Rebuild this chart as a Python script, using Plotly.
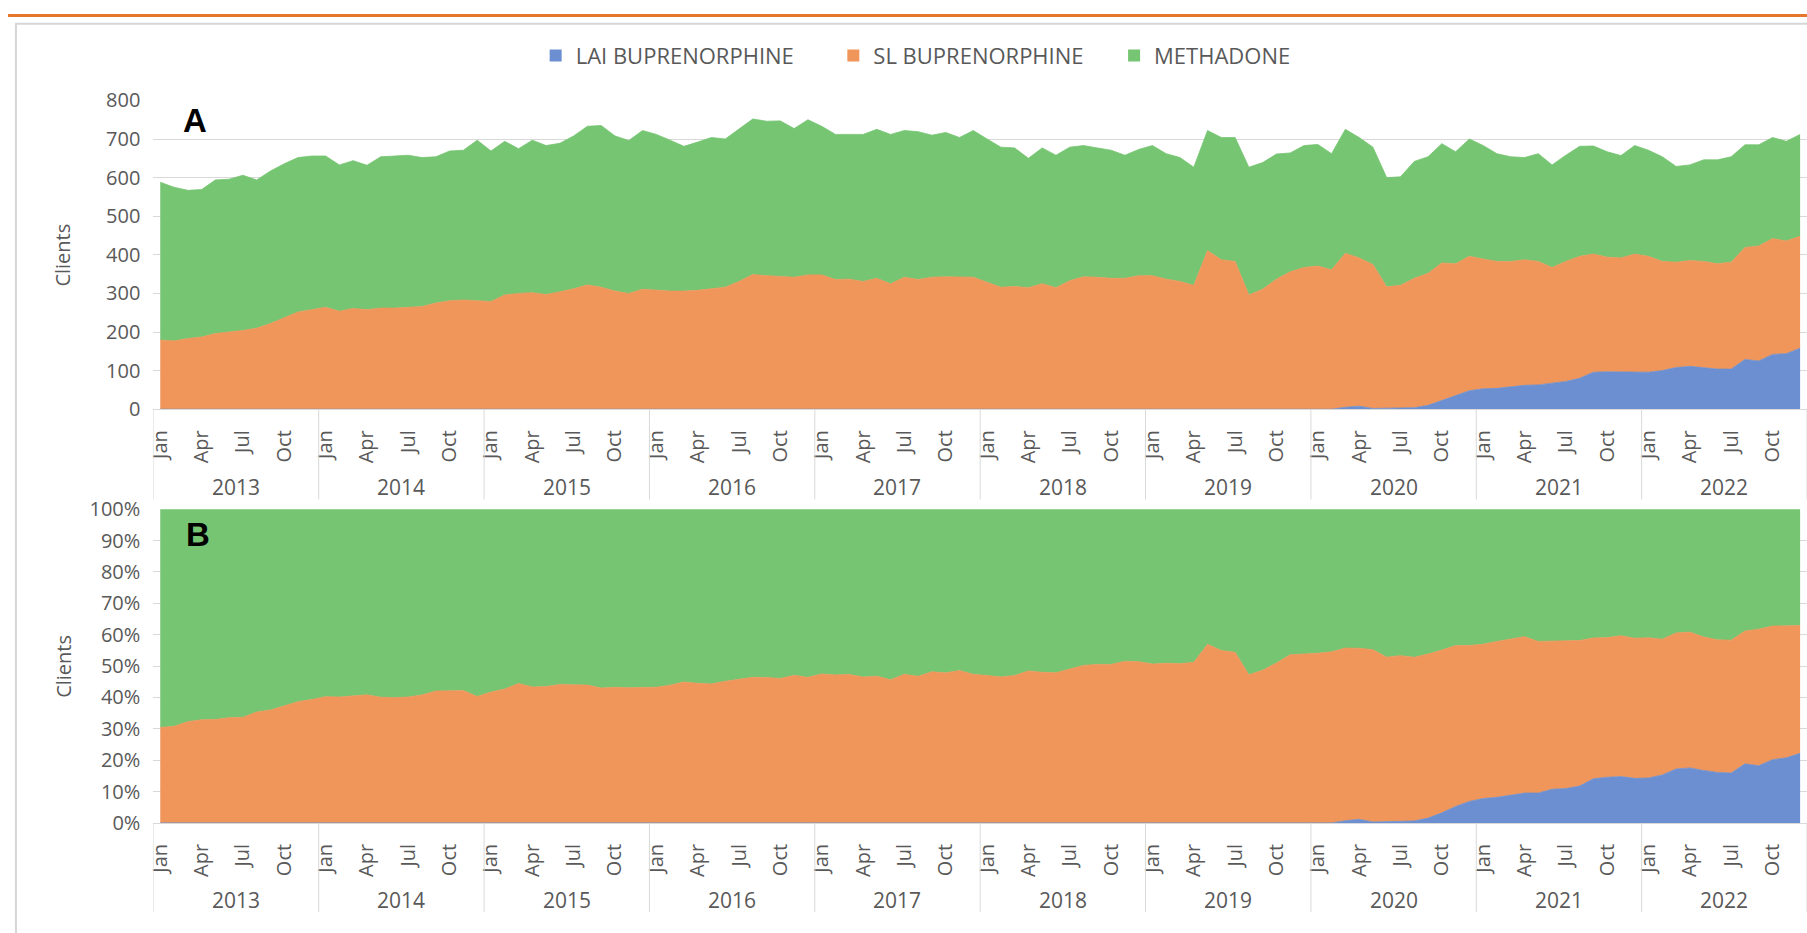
import plotly.graph_objects as go

# Monthly client counts, Jan 2013 - Dec 2022 (one row per year)
years = ['2013', '2014', '2015', '2016', '2017', '2018', '2019', '2020', '2021', '2022']
month_ticks = ['Jan', 'Apr', 'Jul', 'Oct']
series_names = ['LAI BUPRENORPHINE', 'SL BUPRENORPHINE', 'METHADONE']

lai = [
    0, 0, 0, 0, 0, 0, 0, 0, 0, 0, 0, 0,
    0, 0, 0, 0, 0, 0, 0, 0, 0, 0, 0, 0,
    0, 0, 0, 0, 0, 0, 0, 0, 0, 0, 0, 0,
    0, 0, 0, 0, 0, 0, 0, 0, 0, 0, 0, 0,
    0, 0, 0, 0, 0, 0, 0, 0, 0, 0, 0, 0,
    0, 0, 0, 0, 0, 0, 0, 0, 0, 0, 0, 0,
    0, 0, 0, 0, 0, 0, 0, 0, 0, 0, 0, 0,
    0, 0, 5, 8, 2, 3, 3, 4, 10, 22, 35, 48,
    53, 54, 58, 62, 63, 68, 72, 80, 96, 97, 97, 97,
    96, 100, 108, 111, 108, 104, 104, 129, 125, 142, 144, 158,
]
sl = [
    179, 177, 183, 187, 196, 200, 204, 210, 222, 237, 252, 258,
    264, 254, 261, 258, 262, 262, 264, 266, 275, 281, 283, 281,
    279, 296, 300, 302, 297, 304, 312, 322, 316, 306, 300, 311,
    308, 306, 306, 308, 312, 316, 331, 349, 346, 344, 342, 348,
    348, 336, 337, 331, 339, 325, 342, 336, 342, 343, 342, 342,
    329, 316, 318, 315, 325, 315, 333, 343, 342, 339, 339, 346,
    346, 337, 331, 321, 411, 387, 383, 296, 311, 337, 356, 367,
    371, 361, 399, 384, 373, 314, 318, 335, 342, 357, 342, 348,
    336, 329, 325, 325, 320, 299, 311, 316, 306, 297, 295, 305,
    300, 283, 273, 274, 275, 273, 277, 290, 298, 300, 292, 290,
]
methadone = [
    409, 398, 384, 382, 398, 396, 402, 384, 395, 399, 400, 398,
    392, 379, 383, 374, 392, 394, 394, 386, 379, 388, 388, 416,
    390, 398, 375, 395, 386, 385, 396, 411, 419, 402, 396, 411,
    404, 391, 375, 384, 392, 384, 394, 403, 400, 403, 385, 402,
    385, 376, 375, 381, 386, 387, 380, 383, 368, 374, 362, 380,
    371, 363, 359, 335, 352, 343, 346, 340, 335, 332, 319, 327,
    337, 325, 321, 306, 311, 317, 321, 331, 328, 324, 308, 316,
    315, 301, 321, 312, 304, 283, 281, 303, 302, 309, 290, 304,
    294, 279, 271, 265, 279, 266, 275, 285, 280, 273, 265, 281,
    275, 271, 248, 248, 263, 269, 273, 266, 262, 262, 258, 264,
]

colors = ['#6b8fd0', '#f0965a', '#76c572']
text_col = '#595959'
grid_col = '#d9d9d9'
W, H = 1807, 933

x = list(range(len(lai)))
tickvals = [i for i in x if i % 3 == 0]
ticktext = [month_ticks[(i % 12) // 3] for i in tickvals]


def py(pix):
    # pixel row -> paper fraction (margins are zero)
    return 1 - pix / H


fig = go.Figure()

# ---- stacked areas: panel A (counts) and panel B (percent)
for k, (name, vals) in enumerate(zip(series_names, [lai, sl, methadone])):
    fig.add_scatter(x=x, y=vals, name=name, mode='lines', stackgroup='a',
                    line=dict(color=colors[k], width=0.8), fillcolor=colors[k],
                    showlegend=False, xaxis='x', yaxis='y')
    fig.add_scatter(x=x, y=vals, name=name, mode='lines', stackgroup='b',
                    groupnorm='percent' if k == 0 else None,
                    line=dict(color=colors[k], width=0.8), fillcolor=colors[k],
                    showlegend=False, xaxis='x2', yaxis='y2')

# legend entries with small square keys, one legend box per entry
legend_ids = ['legend', 'legend2', 'legend3']
legend_x = [530, 829, 1111]
for k, name in enumerate(series_names):
    fig.add_scatter(x=[None], y=[None], name=name, mode='markers', legend=legend_ids[k],
                    marker=dict(symbol='square', size=12, color=colors[k]),
                    xaxis='x', yaxis='y')

xa = dict(range=[-0.5, len(x) - 0.5], tickmode='array', tickvals=tickvals, ticktext=ticktext,
          tickangle=-90, showgrid=False, zeroline=False, showline=True,
          linecolor=grid_col, linewidth=1, ticks='', ticklabelstandoff=12,
          tickfont=dict(size=20, color=text_col), domain=[146 / W, 1])
ya = dict(showgrid=True, gridcolor=grid_col, gridwidth=1, zeroline=False, ticks='',
          tickfont=dict(size=20, color=text_col), ticklabelstandoff=12)

fig.update_layout(
    width=W, height=H,
    margin=dict(l=0, r=0, t=0, b=0),
    plot_bgcolor='white', paper_bgcolor='white',
    font=dict(family='Open Sans, sans-serif', color=text_col),
    xaxis=dict(xa, anchor='y'),
    xaxis2=dict(xa, anchor='y2'),
    yaxis=dict(ya, domain=[py(407), py(89)], range=[0, 800], dtick=100, anchor='x'),
    yaxis2=dict(ya, domain=[py(833), py(510)], range=[0, 100], dtick=10,
                ticksuffix='%', anchor='x2'),
    showlegend=True,
)
for lid, lx in zip(legend_ids, legend_x):
    fig.update_layout({lid: dict(x=lx / W, xanchor='left', y=py(43), yanchor='middle',
                                 font=dict(size=22, color=text_col), itemwidth=30,
                                 borderwidth=0, bgcolor='rgba(0,0,0,0)')})

# ---- year labels and year dividers under each panel
shapes = []
annotations = []
for axis_x, axis_bottom, div_bottom, year_y in [('x', 407, 500, 487), ('x2', 833, 925, 912)]:
    for k, yr in enumerate(years):
        annotations.append(dict(x=k * 12 + 5.5, y=py(year_y), xref=axis_x, yref='paper',
                                xanchor='center', yanchor='middle',
                                text=yr, showarrow=False, font=dict(size=21, color=text_col)))
    for k in range(len(years) + 1):
        shapes.append(dict(type='line', xref=axis_x, yref='paper', x0=k * 12 - 0.5, x1=k * 12 - 0.5,
                           y0=py(axis_bottom), y1=py(div_bottom), line=dict(color=grid_col, width=1)))

# axis titles
for yc in [(407 + 89) / 2, (833 + 510) / 2]:
    annotations.append(dict(x=55 / W, y=py(yc), xref='paper', yref='paper', text='Clients',
                            xanchor='center', yanchor='middle',
                            textangle=-90, showarrow=False, font=dict(size=20, color=text_col)))

# panel letters
for letter, lx, ly in [('A', 188, 110), ('B', 191, 536)]:
    annotations.append(dict(x=lx / W, y=py(ly), xref='paper', yref='paper', text=f'<b>{letter}</b>',
                            xanchor='center', yanchor='middle', showarrow=False,
                            font=dict(family='Liberation Sans, Arial', size=33, color='black')))

# slide frame and orange top rule
shapes.append(dict(type='rect', xref='paper', yref='paper', x0=8 / W, x1=1.05, y0=-0.05, y1=py(10),
                   line=dict(color='#d6d6d6', width=2), layer='below'))
shapes.append(dict(type='line', xref='paper', yref='paper', x0=0, x1=1, y0=py(1.5), y1=py(1.5),
                   line=dict(color='#e5762c', width=3)))

fig.update_layout(shapes=shapes, annotations=annotations)

reset_page = ("document.documentElement.style.margin='0';"
              "document.body.style.margin='0';document.body.style.padding='0';"
              "document.documentElement.style.overflow='hidden';window.scrollTo(0,0);")
fig.write_html("out.html", config={'displayModeBar': False}, post_script=reset_page)
